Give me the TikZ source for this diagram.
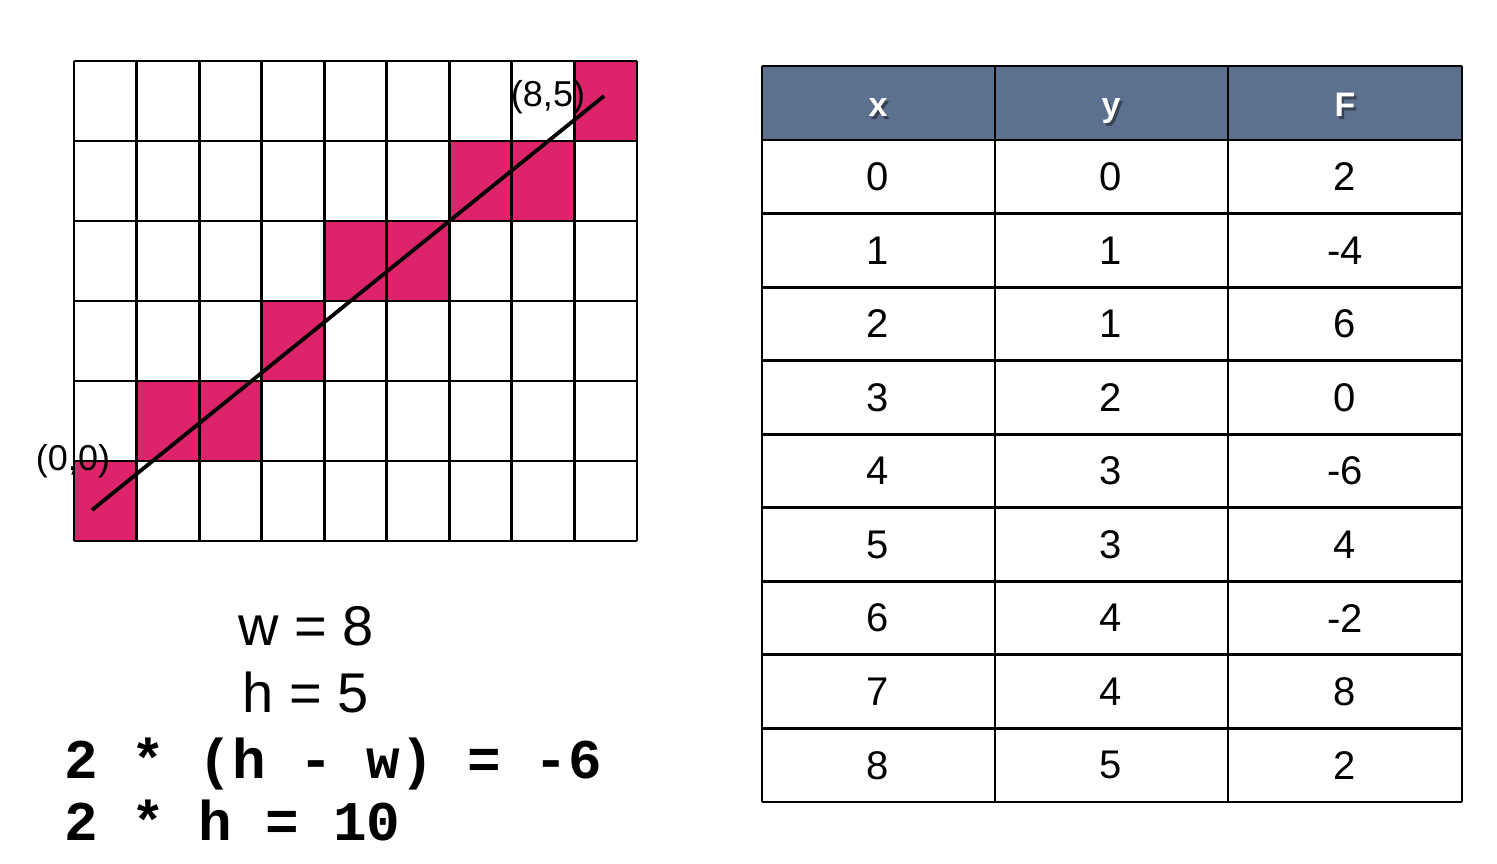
\documentclass[tikz,border=0pt]{standalone}
\usepackage{fontspec}
\setmainfont{Liberation Sans}
\setmonofont{Liberation Mono}
\definecolor{cellpink}{RGB}{221,36,106}
\definecolor{hdrblue}{RGB}{92,113,143}
\begin{document}
\begin{tikzpicture}[x=1pt,y=-1pt,
  gridline/.style={line width=2.8pt,black},
  tabline/.style={line width=2.8pt,black},
  cellnum/.style={font=\fontsize{40}{44}\selectfont,inner sep=0pt},
  hdrtxt/.style={font=\fontsize{34}{38}\selectfont\bfseries,text=white,inner sep=0pt,anchor=base},
  hdrshadow/.style={font=\fontsize{34}{38}\selectfont\bfseries,text=black,opacity=0.4,inner sep=0pt,anchor=base},
  ptlabel/.style={font=\fontsize{36}{40}\selectfont,inner sep=0pt,anchor=base},
  eqsans/.style={font=\fontsize{56}{60}\selectfont,inner sep=0pt,anchor=base},
  eqmono/.style={font=\fontsize{56}{60}\selectfont\ttfamily\bfseries,inner sep=0pt,anchor=base west}
]
\useasboundingbox (0,0) rectangle (1497,864);
\fill[white] (0,0) rectangle (1497,864);

% grid cells
\foreach \c/\r in {8/0,6/1,7/1,4/2,5/2,3/3,1/4,2/4,0/5}
  \fill[cellpink] (74+\c*62.556,61+\r*80) rectangle ++(62.556,80);
\foreach \i in {0,...,9}
  \draw[gridline] (74+\i*62.556,61) -- ++(0,480);
\foreach \j in {0,...,6}
  \draw[gridline] (74,61+\j*80) -- ++(563,0);

% line
\coordinate (p0) at (92,510);
\coordinate (p1) at (604,96);
\draw[line width=3.8pt] (p0) -- (p1);

\node[ptlabel] (lab85) at (548,107) {(8,5)};
\node[ptlabel] (lab00) at (73,470) {(0,0)};

% equations
\node[eqsans] (eqw) at (306,645) {w = 8};
\node[eqsans] (eqh) at (306,712) {h = 5};
\node[eqmono] (eq1) at (64,778) {2 * (h - w) = -6};
\node[eqmono] (eq2) at (64,840) {2 * h = 10};

% table
\fill[hdrblue] (762,66) rectangle (1462,140);
\foreach \x/\t [count=\k] in {878/x,1111/y,1345/F}{
  \node[hdrshadow] (hs\k) at (\x+2.5,119.5) {\t};
  \node[hdrtxt] (h\k) at (\x,117) {\t};
}
\foreach \xv/\yv/\fv [count=\k from 0] in {0/0/2,1/1/-4,2/1/6,3/2/0,4/3/-6,5/3/4,6/4/-2,7/4/8,8/5/2}{
  \node[cellnum] (cx\k) at (878,176.8+\k*73.556) {\xv};
  \node[cellnum] (cy\k) at (1111,176.8+\k*73.556) {\yv};
  \node[cellnum] (cf\k) at (1345,176.8+\k*73.556) {\fv};
}
\foreach \x in {762,995,1228,1462}
  \draw[tabline] (\x,66) -- (\x,802);
\draw[tabline] (762,66) -- (1462,66);
\foreach \j in {0,...,9}
  \draw[tabline] (762,140+\j*73.556) -- (1462,140+\j*73.556);
\end{tikzpicture}
\end{document}
